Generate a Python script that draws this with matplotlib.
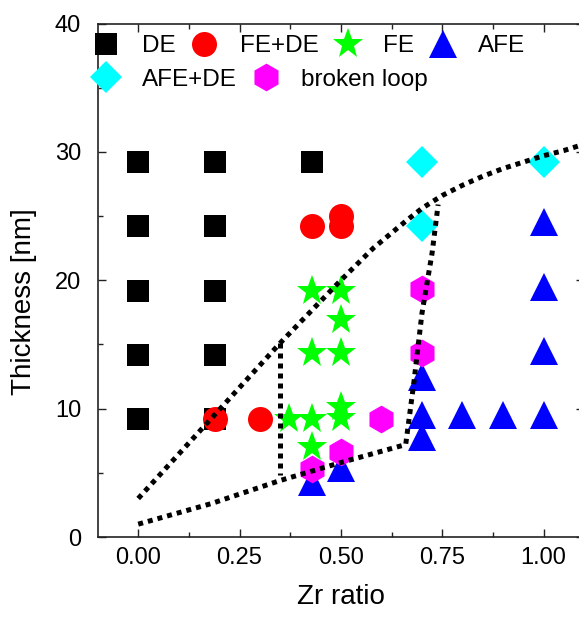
import matplotlib
matplotlib.use("Agg")
import matplotlib.pyplot as plt
from matplotlib.ticker import MultipleLocator, FormatStrFormatter

plt.rcParams['font.family'] = ['Liberation Sans', 'DejaVu Sans']

# ---- data ----
de_x = [0.0, 0.0, 0.0, 0.0, 0.0, 0.19, 0.19, 0.19, 0.19, 0.19, 0.43]
de_y = [29.2, 24.2, 19.2, 14.2, 9.2, 29.2, 24.2, 19.2, 14.2, 9.2, 29.2]

fede_x = [0.19, 0.30, 0.43, 0.50, 0.50]
fede_y = [9.2, 9.2, 24.2, 25.0, 24.2]

fe_x = [0.43, 0.50, 0.50, 0.43, 0.50, 0.372, 0.43, 0.50, 0.50, 0.43]
fe_y = [19.2, 19.2, 16.9, 14.3, 14.3, 9.2, 9.2, 9.3, 10.1, 7.0]

afe_x = [1.0, 1.0, 1.0, 1.0, 0.9, 0.8, 0.70, 0.70, 0.70, 0.43, 0.50]
afe_y = [24.5, 19.5, 14.5, 9.5, 9.5, 9.5, 9.5, 12.5, 7.8, 4.3, 5.4]

afede_x = [0.70, 1.0, 0.70]
afede_y = [29.2, 29.2, 24.2]

broken_x = [0.70, 0.70, 0.60, 0.43, 0.50]
broken_y = [19.3, 14.3, 9.2, 5.3, 6.6]

# phase boundaries (dotted)
upper_x = [0.0, 0.35, 0.50, 0.58, 0.66, 0.70, 0.75, 0.80, 0.85, 0.90, 0.95, 1.0, 1.05, 1.1]
upper_y = [3.0, 15.1, 20.0, 22.5, 24.6, 25.6, 26.6, 27.4, 28.1, 28.7, 29.2, 29.7, 30.1, 30.6]
lower_x = [0.0, 0.18, 0.35, 0.50, 0.66, 0.68, 0.70, 0.725, 0.74]
lower_y = [1.0, 2.6, 4.4, 5.8, 7.2, 12.0, 17.4, 22.1, 25.9]
vert_x = [0.35, 0.35]
vert_y = [15.1, 4.8]

x_ticks = [0.0, 0.25, 0.50, 0.75, 1.00]
y_ticks = [0, 10, 20, 30, 40]

fig = plt.figure(figsize=(5.79, 6.25), dpi=100)
ax = fig.add_axes([0.1687, 0.1408, 0.840, 0.8216])

h_de, = ax.plot(de_x, de_y, 's', color='#000000', ms=15.5, mew=0, label='DE', zorder=3)
h_fede, = ax.plot(fede_x, fede_y, 'o', color='#ff0000', ms=18, mew=0, label='FE+DE', zorder=3)
h_fe, = ax.plot(fe_x, fe_y, '*', color='#00ff00', ms=23, mew=0, label='FE', zorder=3)
h_afe, = ax.plot(afe_x, afe_y, '^', color='#0000ff', ms=20, mew=0, label='AFE', zorder=3)
h_afede, = ax.plot(afede_x, afede_y, 'D', color='#00ffff', ms=16, mew=0, label='AFE+DE', zorder=3)
h_br, = ax.plot(broken_x, broken_y, 'h', color='#ff00ff', ms=20, mew=0, label='broken loop', zorder=3)

for xs, ys in [(upper_x, upper_y), (lower_x, lower_y), (vert_x, vert_y)]:
    ax.plot(xs, ys, color='black', lw=3.6, dashes=(1, 1), dash_capstyle='butt',
            solid_capstyle='butt', zorder=4)

ax.set_xlim(-0.1, 1.1)
ax.set_ylim(0, 40)
ax.set_xticks(x_ticks)
ax.set_yticks(y_ticks)
ax.xaxis.set_major_formatter(FormatStrFormatter('%.2f'))
ax.xaxis.set_minor_locator(MultipleLocator(0.125))
ax.yaxis.set_minor_locator(MultipleLocator(5))
ax.tick_params(which='both', direction='in', top=True, right=True, colors='#222222',
               labelcolor='black', width=1.0)
ax.tick_params(which='major', length=6, labelsize=17)
ax.tick_params(axis='x', which='major', pad=7)
ax.tick_params(axis='y', which='major', pad=12)
ax.tick_params(which='minor', length=3.5)
for s in ax.spines.values():
    s.set_color('#222222')
    s.set_linewidth(1.2)

ax.set_xlabel('Zr ratio', fontsize=20, labelpad=11)
ax.set_ylabel('Thickness [nm]', fontsize=20)
ax.yaxis.set_label_coords(-0.125, 0.459)

common = dict(frameon=False, fontsize=17.5, handlelength=1.0, handletextpad=0.95,
              columnspacing=0.7, borderpad=0, borderaxespad=0, loc='center left')
leg1 = ax.legend(handles=[h_de, h_fede, h_fe, h_afe], ncol=4,
                 bbox_to_anchor=(-0.007, 0.9557), **common)
ax.add_artist(leg1)
ax.legend(handles=[h_afede, h_br], ncol=2, bbox_to_anchor=(-0.007, 0.8908), **common)

fig.savefig('out.png', dpi=100)
